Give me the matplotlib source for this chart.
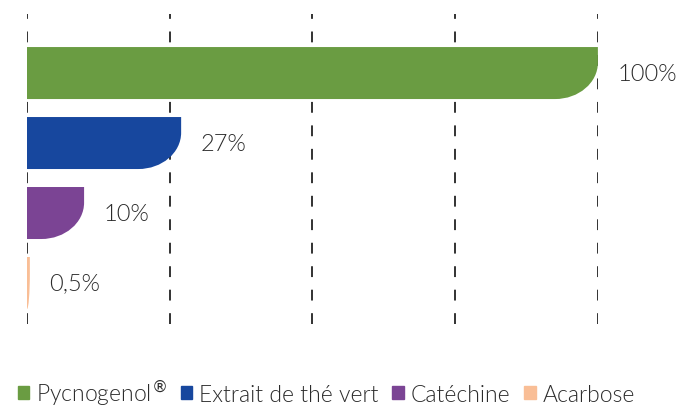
import matplotlib
matplotlib.use('Agg')
import matplotlib.pyplot as plt
import matplotlib.patches as mpatches
from matplotlib.path import Path

plt.rcParams['font.family'] = ['Lato', 'DejaVu Sans']

# donnees
names = ['Pycnogenol$^{®}$', 'Extrait de thé vert', 'Catéchine', 'Acarbose']
values = [100, 27, 10, 0.5]
labels = ['100%', '27%', '10%', '0,5%']
colors = ['#6a9c42', '#17479e', '#7b4494', '#f9be96']
ticks = [0, 25, 50, 75, 100]


def rounded_bar(ax, c, w, h, color, rx=7.5, ry_frac=0.7):
    # barre avec le coin bas-droit arrondi (axe y inverse)
    top = c - h / 2
    bot = c + h / 2
    rx = min(rx, w)
    ry = h * ry_frac
    k = 0.552
    verts = [(0, top), (w, top), (w, bot - ry),
             (w, bot - ry * (1 - k)), (w - rx * (1 - k), bot), (w - rx, bot),
             (0, bot), (0, top)]
    codes = [Path.MOVETO, Path.LINETO, Path.LINETO,
             Path.CURVE4, Path.CURVE4, Path.CURVE4,
             Path.LINETO, Path.CLOSEPOLY]
    ax.add_patch(mpatches.PathPatch(Path(verts, codes), facecolor=color,
                                    edgecolor='none', zorder=3))


fig = plt.figure(figsize=(6.87, 4.10), dpi=100)
ax = fig.add_axes([0.0393, 0.2073, 0.831, 0.756])

for x in ticks:
    ax.axvline(x, color='#222222', lw=1.3, linestyle=(0, (6, 7)), zorder=1)

bar_h = 0.743
for i, (v, lab, col) in enumerate(zip(values, labels, colors)):
    rounded_bar(ax, i, v, bar_h, col)
    ax.annotate(lab, xy=(v, i), xytext=(14, 0), textcoords='offset points',
                va='center', ha='left', fontsize=17, color='#2b2b2b',
                fontweight=300)

ax.set_xlim(0, 100)
ax.set_ylim(3.586, -0.843)
ax.axis('off')

handles = [mpatches.Patch(color=c, label=n) for c, n in zip(colors, names)]
fig.legend(handles=handles, loc='lower center', bbox_to_anchor=(0.475, -0.045),
           ncol=4, frameon=False, handlelength=0.5, handleheight=0.5,
           handletextpad=0.3, columnspacing=0.6, labelcolor='#2b2b2b',
           prop={'size': 16.5, 'weight': 300})

fig.savefig('out.png', dpi=100)
